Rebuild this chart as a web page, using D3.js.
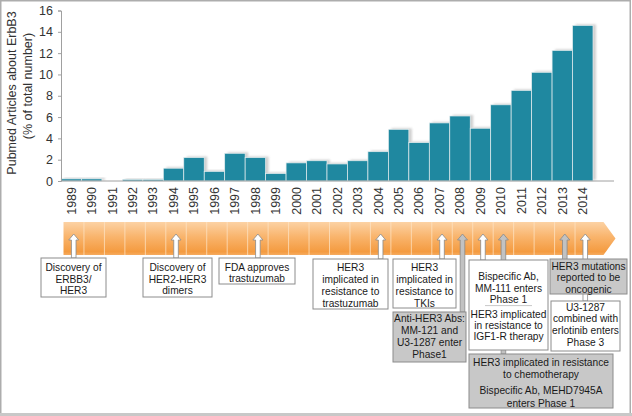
<!DOCTYPE html>
<html>
<head>
<meta charset="utf-8">
<script src="https://cdn.jsdelivr.net/npm/d3@7"></script>
<style>
  body { margin: 0; background: #fff; }
  svg { display: block; font-family: "Liberation Sans", Arial, sans-serif; }
  .axis text { fill: #333; }
  .box-text { fill: #1a1a1a; }
</style>
</head>
<body>
<div id="chart"></div>
<script>
// DATA
const years = ["1989","1990","1991","1992","1993","1994","1995","1996","1997","1998","1999","2000","2001",
  "2002","2003","2004","2005","2006","2007","2008","2009","2010","2011","2012","2013","2014"];
const articlePct = [0.2, 0.2, 0, 0.15, 0.15, 1.2, 2.2, 0.9, 2.6, 2.2, 0.7, 1.7, 1.9,
  1.6, 1.9, 2.75, 4.85, 3.6, 5.45, 6.1, 4.95, 7.15, 8.5, 10.2, 12.25, 14.6];
const yTicks = [0, 2, 4, 6, 8, 10, 12, 14, 16];
const yTitle = ["Pubmed Articles about ErbB3", "(% of total number)"];

// milestone arrows on the timeline (year, shade)
const arrowYears = ["1989", "1994", "1998", "2004", "2007", "2008", "2009", "2010", "2013", "2014"];
const arrowShades = ["white", "white", "white", "white", "white", "gray", "white", "gray", "gray", "white"];

// annotation boxes (text, shade); "" marks a gap between two notes
const boxTexts = [
  ["Discovery of", "ERBB3/", "HER3"],
  ["Discovery of", "HER2-HER3", "dimers"],
  ["FDA approves", "trastuzumab"],
  ["HER3", "implicated in", "resistance to", "trastuzumab"],
  ["HER3", "implicated in", "resistance to", "TKIs"],
  ["Anti-HER3 Abs:", "MM-121 and", "U3-1287 enter", "Phase1"],
  ["Bispecific Ab,", "MM-111 enters", "Phase 1", "", "HER3 implicated", "in resistance to", "IGF1-R therapy"],
  ["HER3 implicated in resistance", "to chemotherapy", "", "Bispecific Ab, MEHD7945A", "enters Phase 1"],
  ["HER3 mutations", "reported to be", "oncogenic"],
  ["U3-1287", "combined with", "erlotinib enters", "Phase 3"]
];
const boxShades = ["white", "white", "white", "white", "white", "gray", "white", "gray", "gray", "white"];

// LAYOUT
const W = 632, H = 416;
const x0 = 61, x1 = 593, y0 = 181, yTop = 10.5;
const tlTop = 222, tlBot = 255, tlShift = 2.5;
const arrowTip = 234;
const boxFont = 10.2;
// bottom end of each arrow shaft
const arrowEnds = [258, 258, 258, 259, 259, 312, 260, 354, 260, 301];
// box geometry [x, y, w, h, first line centre, line height]
const boxLayout = [
  [41, 258, 65, 39, 267.5, 11.5],
  [143, 258, 69, 39, 267.5, 11.5],
  [219, 258, 76, 26, 267, 11.5],
  [313, 259, 75, 50, 267, 12.3],
  [393, 259, 63, 49, 267, 12.3],
  [393, 312, 73, 50, 318, 12],
  [469, 260, 79, 90, 276.7, 11.3],
  [469, 354, 144, 54, 362, 12.5],
  [550, 259, 77, 35, 266, 11.8],
  [551, 301, 69, 50, 307, 11.7]
];

const svg = d3.select("#chart").append("svg")
  .attr("width", W)
  .attr("height", H);

const defs = svg.append("defs");
const grad = defs.append("linearGradient")
  .attr("id", "tl-grad")
  .attr("x1", 0).attr("y1", 0).attr("x2", 0).attr("y2", 1);
grad.append("stop").attr("offset", "0%").attr("stop-color", "#fcd2a4");
grad.append("stop").attr("offset", "45%").attr("stop-color", "#f9b46c");
grad.append("stop").attr("offset", "90%").attr("stop-color", "#f49b40");
grad.append("stop").attr("offset", "100%").attr("stop-color", "#f6ab60");

defs.append("filter").attr("id", "soft")
  .append("feGaussianBlur").attr("stdDeviation", 1);

// SCALES
const x = d3.scaleBand().domain(years).range([x0, x1]).padding(0);
const y = d3.scaleLinear().domain([0, 16]).range([y0, yTop]);
const bw = x.bandwidth();

// bar shadows
svg.append("g")
  .selectAll("rect")
  .data(years)
  .join("rect")
  .attr("x", d => x(d) + 3)
  .attr("y", (d, i) => y(articlePct[i]) - 1)
  .attr("width", bw)
  .attr("height", (d, i) => Math.max(0, y0 - y(articlePct[i])))
  .attr("fill", "#c4c4c4")
  .attr("opacity", (d, i) => articlePct[i] > 0 ? 0.8 : 0)
  .attr("filter", "url(#soft)");

// bars
svg.append("g")
  .selectAll("rect")
  .data(years)
  .join("rect")
  .attr("x", d => x(d))
  .attr("y", (d, i) => y(articlePct[i]))
  .attr("width", bw)
  .attr("height", (d, i) => y0 - y(articlePct[i]))
  .attr("fill", "#1f88a0")
  .attr("stroke", "#e6eef0")
  .attr("stroke-width", 0.7);

// AXES
const yAxis = svg.append("g")
  .attr("class", "axis")
  .attr("transform", `translate(${x0},0)`)
  .call(d3.axisLeft(y).tickValues(yTicks).tickSize(3).tickPadding(5))
  .attr("font-family", null)
  .attr("font-size", null);
yAxis.select(".domain").attr("stroke", "#a0a0a0");
yAxis.selectAll(".tick line").attr("stroke", "#a0a0a0");
yAxis.selectAll("text").style("font-size", "12.5px");

svg.append("line")
  .attr("x1", x0).attr("x2", 614)
  .attr("y1", y0).attr("y2", y0)
  .attr("stroke", "#a0a0a0");

const xAxis = svg.append("g")
  .attr("class", "axis")
  .attr("transform", `translate(0,${y0})`)
  .call(d3.axisBottom(x).tickSize(0))
  .attr("font-family", null)
  .attr("font-size", null);
xAxis.select(".domain").remove();
xAxis.selectAll("text")
  .style("font-size", "12.5px")
  .attr("transform", "rotate(-90)")
  .attr("text-anchor", "end")
  .attr("x", -6)
  .attr("y", 0)
  .attr("dy", "0.35em");

svg.append("g")
  .selectAll("text")
  .data(yTitle)
  .join("text")
  .attr("transform", (d, i) => `translate(${i ? 28 : 12},${i ? 86 : 93}) rotate(-90)`)
  .attr("text-anchor", "middle")
  .attr("dy", "0.35em")
  .attr("fill", "#333")
  .style("font-size", "12.5px")
  .text(d => d);

// TIMELINE
const tlStart = x0 + tlShift;
const tlEnd = x1 + tlShift + 8;
const tlMid = (tlTop + tlBot) / 2;
svg.append("path")
  .attr("d", `M${tlStart},${tlTop}H${tlEnd}L${tlEnd + 12},${tlMid}L${tlEnd},${tlBot}H${tlStart}Z`)
  .attr("fill", "url(#tl-grad)");

svg.append("g")
  .selectAll("line")
  .data(years.slice(1))
  .join("line")
  .attr("x1", d => x(d) + tlShift)
  .attr("x2", d => x(d) + tlShift)
  .attr("y1", tlTop)
  .attr("y2", tlBot)
  .attr("stroke", "#fde3c4")
  .attr("stroke-width", 1)
  .attr("opacity", 0.75);

// ARROWS
function arrowPath(cx, yEnd) {
  const hw = 5, sw = 2.3, hh = 6;
  return `M${cx},${arrowTip}L${cx + hw},${arrowTip + hh}H${cx + sw}V${yEnd}H${cx - sw}V${arrowTip + hh}H${cx - hw}Z`;
}
svg.append("g")
  .selectAll("path")
  .data(arrowYears)
  .join("path")
  .attr("d", (d, i) => arrowPath(x(d) + bw / 2 + tlShift, arrowEnds[i]))
  .attr("fill", (d, i) => arrowShades[i] === "gray" ? "#c2c2c2" : "#fff")
  .attr("stroke", "#8a8a8a")
  .attr("stroke-width", 0.8);

// BOXES
const boxes = svg.append("g")
  .selectAll("g")
  .data(boxTexts)
  .join("g");

boxes.append("rect")
  .attr("x", (d, i) => boxLayout[i][0])
  .attr("y", (d, i) => boxLayout[i][1])
  .attr("width", (d, i) => boxLayout[i][2])
  .attr("height", (d, i) => boxLayout[i][3])
  .attr("fill", (d, i) => boxShades[i] === "gray" ? "#c8c8c8" : "#fff")
  .attr("stroke", "#8c8c8c")
  .attr("stroke-width", 1);

boxes.each(function(lines, i) {
  const [bx, by, bwid, bh, ly, lh] = boxLayout[i];
  const g = d3.select(this);
  let cy = ly;
  lines.forEach(t => {
    if (t === "") {
      if (boxShades[i] === "white") {
        g.append("line")
          .attr("x1", bx + 16).attr("x2", bx + bwid - 16)
          .attr("y1", cy - 5).attr("y2", cy - 5)
          .attr("stroke", "#c8c8c8");
      }
      cy += lh * 0.3;
      return;
    }
    g.append("text")
      .attr("class", "box-text")
      .attr("x", bx + bwid / 2)
      .attr("y", cy)
      .attr("dy", "0.35em")
      .attr("text-anchor", "middle")
      .style("font-size", boxFont + "px")
      .text(t);
    cy += lh;
  });
});

// frame
svg.append("rect")
  .attr("x", 0.75).attr("y", 0.75)
  .attr("width", W - 2.5).attr("height", H - 3)
  .attr("fill", "none")
  .attr("stroke", "#adadad")
  .attr("stroke-width", 1.5);
svg.append("line")
  .attr("x1", 0).attr("x2", W)
  .attr("y1", H - 1.5).attr("y2", H - 1.5)
  .attr("stroke", "#c8c8c8")
  .attr("stroke-width", 3);
</script>
</body>
</html>
